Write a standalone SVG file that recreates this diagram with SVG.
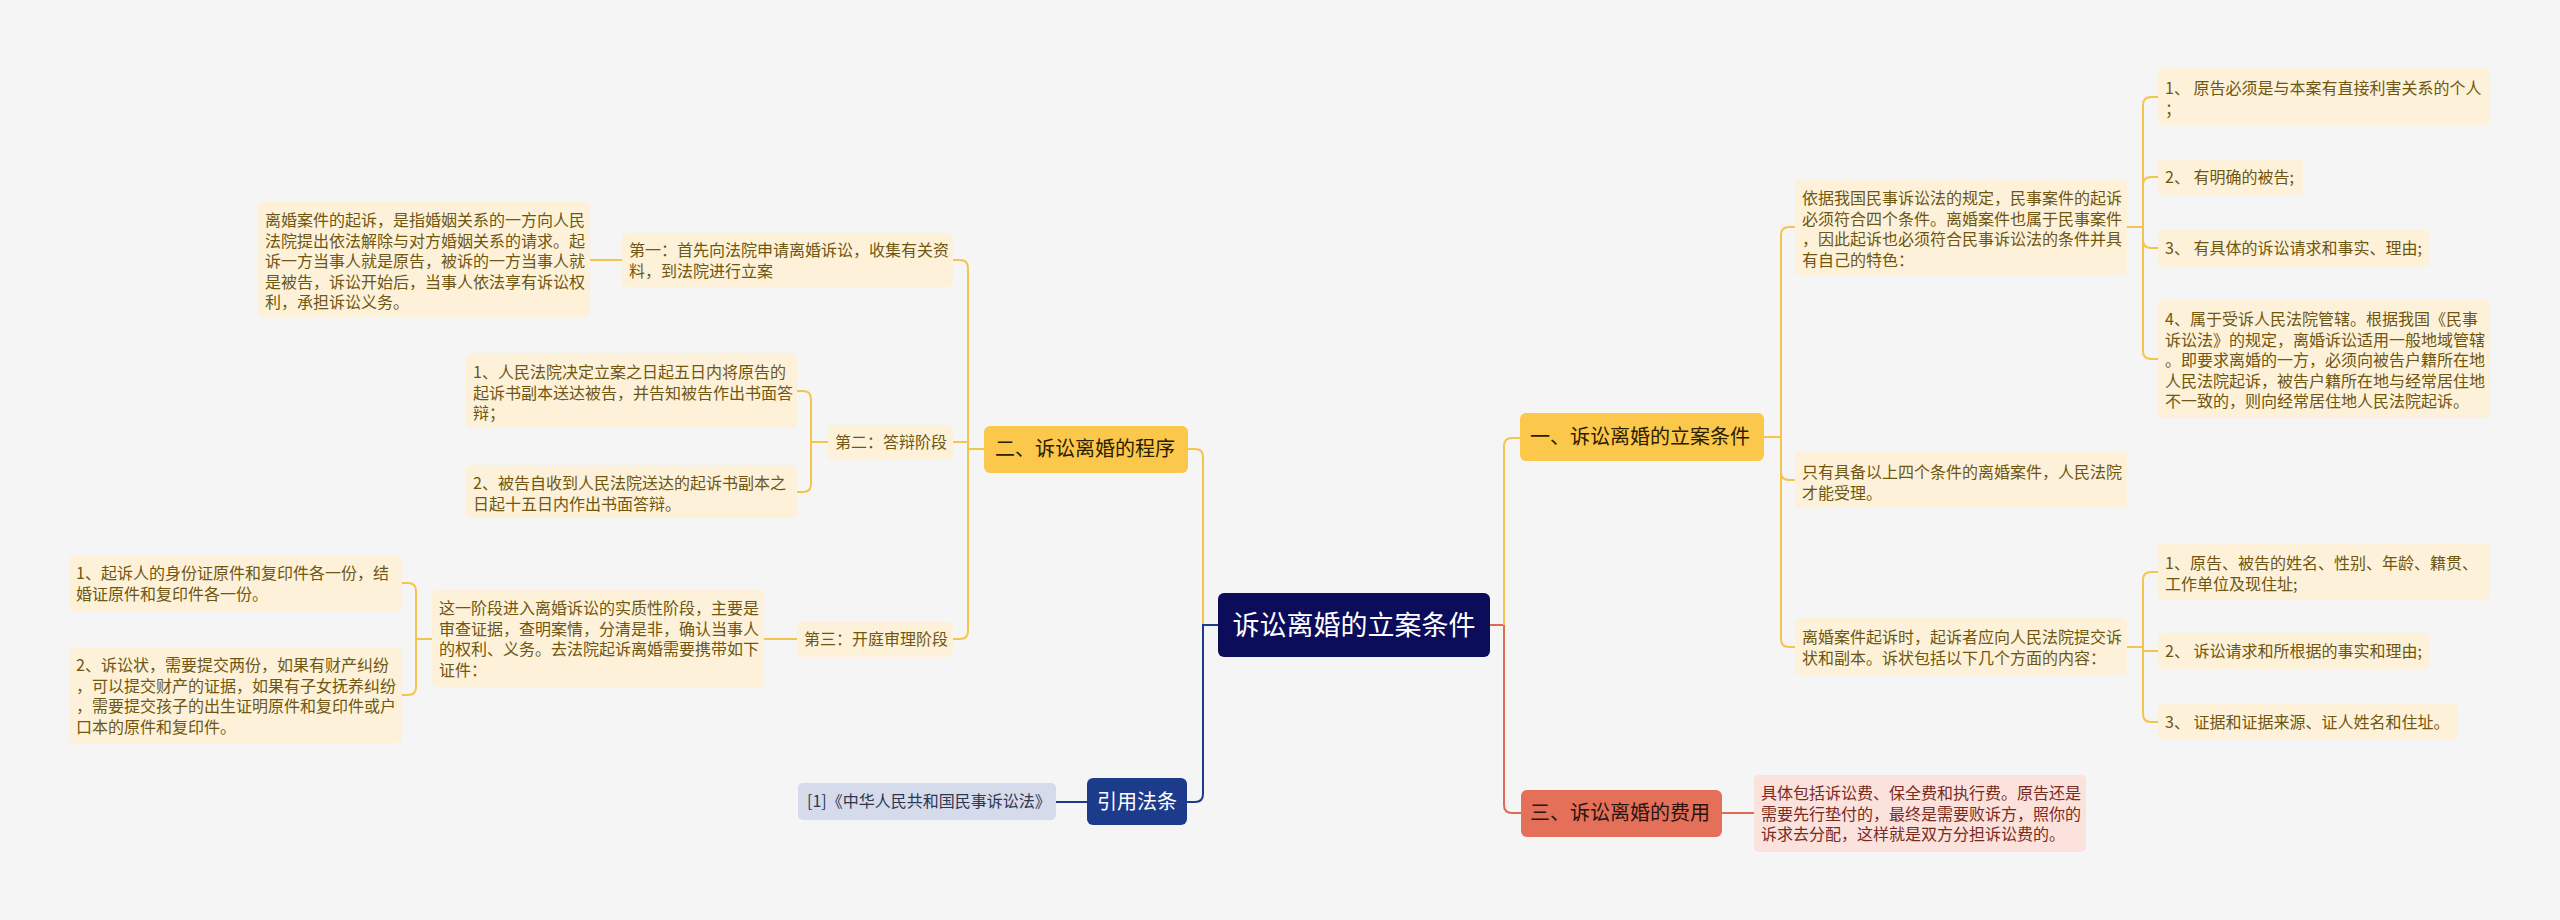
<svg xmlns="http://www.w3.org/2000/svg" width="2560" height="920" viewBox="0 0 2560 920">
<style>
text{font-family:"Noto Sans CJK SC","Liberation Sans",sans-serif;}
.bg{fill:#f5f5f5;}
.leaf{fill:#fdf2d9;}
.lt{font-size:16px;fill:#6f5611;}
.sub{fill:#fcc84b;}
.st{font-size:20px;fill:#2a2000;}
.root{fill:#0b0d5b;}
.rt{font-size:27px;fill:#ffffff;}
.cite{fill:#1d3b8b;}
.ct{font-size:20px;fill:#ffffff;}
.ref{fill:#d5dbea;}
.reft{font-size:16px;fill:#2e3650;}
.fee{fill:#e4705a;}
.feet{font-size:20px;fill:#2a1410;}
.feeleaf{fill:#fbe2dc;}
.feelt{font-size:16px;fill:#7a2b1e;}
.cy{fill:none;stroke:#f5c44f;stroke-width:2;}
.cn{fill:none;stroke:#1d3b8b;stroke-width:2;}
.cr{fill:none;stroke:#e06a55;stroke-width:2;}
</style>
<rect class="bg" x="0" y="0" width="2560" height="920"/>
<g id="connectors">
<path class="cr" d="M1490,625 H1504 V805 Q1504,813 1512,813 H1521"/>
<path class="cy" d="M1504,625 V446 Q1504,438 1512,438 H1520"/>
<path class="cy" d="M1203,625 V457 Q1203,449 1195,449 H1188"/>
<path class="cn" d="M1218,625 H1203 V794 Q1203,802 1195,802 H1187"/>
<path class="cn" d="M1087,802 H1056"/>
<path class="cy" d="M984,449 H968 V268 Q968,260 960,260 H953"/>
<path class="cy" d="M968,442 H953"/>
<path class="cy" d="M968,449 V631 Q968,639 960,639 H953"/>
<path class="cy" d="M622,260 H590"/>
<path class="cy" d="M828,442 H811 V399 Q811,391 803,391 H797"/>
<path class="cy" d="M811,442 V484 Q811,492 803,492 H797"/>
<path class="cy" d="M797,639 H764"/>
<path class="cy" d="M432,639 H416 V591 Q416,583 408,583 H402"/>
<path class="cy" d="M416,639 V687 Q416,695 408,695 H402"/>
<path class="cy" d="M1764,437 H1781 V235 Q1781,227 1789,227 H1795"/>
<path class="cy" d="M1781,437 V472 Q1781,480 1789,480 H1795"/>
<path class="cy" d="M1781,470 V639 Q1781,647 1789,647 H1795"/>
<path class="cy" d="M2127,227 H2143 V105 Q2143,97 2151,97 H2158"/>
<path class="cy" d="M2143,227 V185 Q2143,177 2151,177 H2158"/>
<path class="cy" d="M2143,227 V240 Q2143,248 2151,248 H2158"/>
<path class="cy" d="M2143,240 V351 Q2143,359 2151,359 H2158"/>
<path class="cy" d="M2127,647 H2143 V580 Q2143,572 2151,572 H2158"/>
<path class="cy" d="M2143,647 V651 H2158"/>
<path class="cy" d="M2143,651 V714 Q2143,722 2151,722 H2158"/>
<path class="cr" d="M1722,813 H1754"/>
</g>
<g id="root">
<rect class="root" x="1218" y="593" width="272" height="64" rx="6"/>
<text class="rt" x="1354" y="635" text-anchor="middle">诉讼离婚的立案条件</text>
</g>
<g id="b1">
<rect class="sub" x="1520" y="413" width="244" height="48" rx="6"/>
<text class="st" x="1530" y="444">一、诉讼离婚的立案条件</text>
</g>
<g id="b1a">
<rect class="leaf" x="1795" y="180" width="332" height="95" rx="5"/>
<text class="lt" x="1802" y="204">依据我国民事诉讼法的规定，民事案件的起诉</text>
<text class="lt" x="1802" y="224.5">必须符合四个条件。离婚案件也属于民事案件</text>
<text class="lt" x="1802" y="245">，因此起诉也必须符合民事诉讼法的条件并具</text>
<text class="lt" x="1802" y="265.5">有自己的特色：</text>
</g>
<g id="b1a1">
<rect class="leaf" x="2158" y="68" width="332" height="57" rx="5"/>
<text class="lt" x="2165" y="94">1、 原告必须是与本案有直接利害关系的个人</text>
<text class="lt" x="2165" y="115">；</text>
</g>
<g id="b1a2">
<rect class="leaf" x="2158" y="159" width="145" height="36" rx="5"/>
<text class="lt" x="2165" y="183">2、 有明确的被告;</text>
</g>
<g id="b1a3">
<rect class="leaf" x="2158" y="230" width="271" height="37" rx="5"/>
<text class="lt" x="2165" y="254">3、 有具体的诉讼请求和事实、理由;</text>
</g>
<g id="b1a4">
<rect class="leaf" x="2158" y="300" width="332" height="118" rx="5"/>
<text class="lt" x="2165" y="325">4、属于受诉人民法院管辖。根据我国《民事</text>
<text class="lt" x="2165" y="345.5">诉讼法》的规定，离婚诉讼适用一般地域管辖</text>
<text class="lt" x="2165" y="366">。即要求离婚的一方，必须向被告户籍所在地</text>
<text class="lt" x="2165" y="386.5">人民法院起诉，被告户籍所在地与经常居住地</text>
<text class="lt" x="2165" y="407">不一致的，则向经常居住地人民法院起诉。</text>
</g>
<g id="b1b">
<rect class="leaf" x="1795" y="452" width="332" height="56" rx="5"/>
<text class="lt" x="1802" y="478">只有具备以上四个条件的离婚案件，人民法院</text>
<text class="lt" x="1802" y="498.5">才能受理。</text>
</g>
<g id="b1c">
<rect class="leaf" x="1795" y="618" width="332" height="57" rx="5"/>
<text class="lt" x="1802" y="643">离婚案件起诉时，起诉者应向人民法院提交诉</text>
<text class="lt" x="1802" y="663.5">状和副本。诉状包括以下几个方面的内容：</text>
</g>
<g id="b1c1">
<rect class="leaf" x="2158" y="543" width="332" height="57" rx="5"/>
<text class="lt" x="2165" y="569">1、原告、被告的姓名、性别、年龄、籍贯、</text>
<text class="lt" x="2165" y="589.5">工作单位及现住址;</text>
</g>
<g id="b1c2">
<rect class="leaf" x="2158" y="633" width="271" height="36" rx="5"/>
<text class="lt" x="2165" y="657">2、 诉讼请求和所根据的事实和理由;</text>
</g>
<g id="b1c3">
<rect class="leaf" x="2158" y="704" width="300" height="36" rx="5"/>
<text class="lt" x="2165" y="728">3、 证据和证据来源、证人姓名和住址。</text>
</g>
<g id="b3">
<rect class="fee" x="1521" y="790" width="201" height="47" rx="6"/>
<text class="feet" x="1530" y="820">三、诉讼离婚的费用</text>
</g>
<g id="b3a">
<rect class="feeleaf" x="1754" y="775" width="332" height="77" rx="5"/>
<text class="feelt" x="1761" y="799">具体包括诉讼费、保全费和执行费。原告还是</text>
<text class="feelt" x="1761" y="819.5">需要先行垫付的，最终是需要败诉方，照你的</text>
<text class="feelt" x="1761" y="840">诉求去分配，这样就是双方分担诉讼费的。</text>
</g>
<g id="b2">
<rect class="sub" x="984" y="426" width="204" height="47" rx="6"/>
<text class="st" x="995" y="456">二、诉讼离婚的程序</text>
</g>
<g id="b2a">
<rect class="leaf" x="622" y="233" width="331" height="54" rx="5"/>
<text class="lt" x="629" y="256">第一：首先向法院申请离婚诉讼，收集有关资</text>
<text class="lt" x="629" y="276.5">料，到法院进行立案</text>
</g>
<g id="b2a1">
<rect class="leaf" x="258" y="202" width="332" height="115" rx="5"/>
<text class="lt" x="265" y="226">离婚案件的起诉，是指婚姻关系的一方向人民</text>
<text class="lt" x="265" y="246.5">法院提出依法解除与对方婚姻关系的请求。起</text>
<text class="lt" x="265" y="267">诉一方当事人就是原告，被诉的一方当事人就</text>
<text class="lt" x="265" y="287.5">是被告，诉讼开始后，当事人依法享有诉讼权</text>
<text class="lt" x="265" y="308">利，承担诉讼义务。</text>
</g>
<g id="b2b">
<rect class="leaf" x="828" y="425" width="125" height="35" rx="5"/>
<text class="lt" x="835" y="448">第二：答辩阶段</text>
</g>
<g id="b2b1">
<rect class="leaf" x="466" y="353" width="331" height="75" rx="5"/>
<text class="lt" x="473" y="378">1、人民法院决定立案之日起五日内将原告的</text>
<text class="lt" x="473" y="398.5">起诉书副本送达被告，并告知被告作出书面答</text>
<text class="lt" x="473" y="419">辩；</text>
</g>
<g id="b2b2">
<rect class="leaf" x="466" y="465" width="331" height="53" rx="5"/>
<text class="lt" x="473" y="489">2、被告自收到人民法院送达的起诉书副本之</text>
<text class="lt" x="473" y="509.5">日起十五日内作出书面答辩。</text>
</g>
<g id="b2c">
<rect class="leaf" x="797" y="622" width="156" height="35" rx="5"/>
<text class="lt" x="804" y="645">第三：开庭审理阶段</text>
</g>
<g id="b2c1">
<rect class="leaf" x="432" y="590" width="332" height="97" rx="5"/>
<text class="lt" x="439" y="614">这一阶段进入离婚诉讼的实质性阶段，主要是</text>
<text class="lt" x="439" y="634.5">审查证据，查明案情，分清是非，确认当事人</text>
<text class="lt" x="439" y="655">的权利、义务。去法院起诉离婚需要携带如下</text>
<text class="lt" x="439" y="675.5">证件：</text>
</g>
<g id="b2c1a">
<rect class="leaf" x="69" y="555" width="333" height="57" rx="5"/>
<text class="lt" x="76" y="579">1、起诉人的身份证原件和复印件各一份，结</text>
<text class="lt" x="76" y="599.5">婚证原件和复印件各一份。</text>
</g>
<g id="b2c1b">
<rect class="leaf" x="69" y="647" width="333" height="96" rx="5"/>
<text class="lt" x="76" y="671">2、诉讼状，需要提交两份，如果有财产纠纷</text>
<text class="lt" x="76" y="691.5">，可以提交财产的证据，如果有子女抚养纠纷</text>
<text class="lt" x="76" y="712">，需要提交孩子的出生证明原件和复印件或户</text>
<text class="lt" x="76" y="732.5">口本的原件和复印件。</text>
</g>
<g id="b4">
<rect class="cite" x="1087" y="778" width="100" height="47" rx="6"/>
<text class="ct" x="1137" y="809" text-anchor="middle">引用法条</text>
</g>
<g id="b4a">
<rect class="ref" x="798" y="783" width="258" height="37" rx="5"/>
<text class="reft" x="807" y="807">[1]《中华人民共和国民事诉讼法》</text>
</g>
</svg>
